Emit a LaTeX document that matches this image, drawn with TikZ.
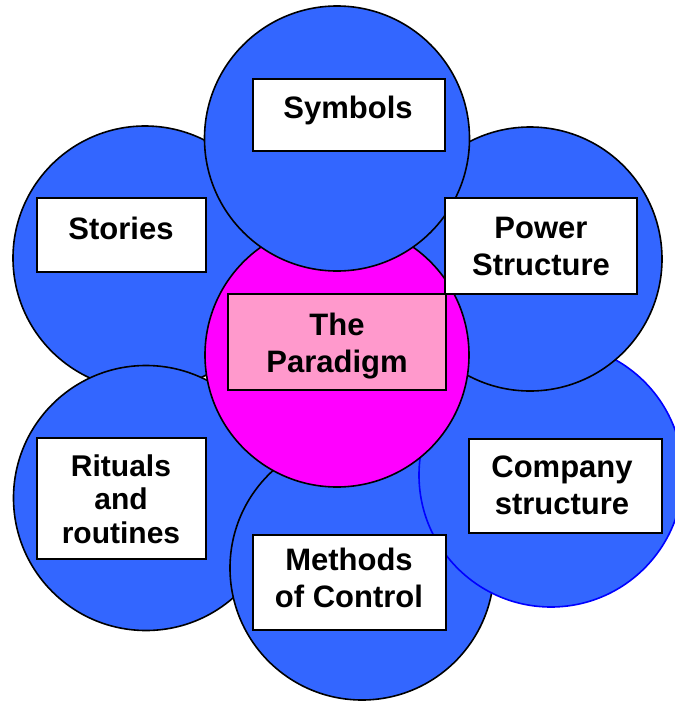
\documentclass[tikz,border=0pt]{standalone}
\usepackage{fontspec}
\setmainfont{Liberation Sans}
\definecolor{petal}{RGB}{51,102,255}
\definecolor{core}{RGB}{255,0,255}
\definecolor{corelabel}{RGB}{255,153,204}
\definecolor{rimblue}{RGB}{0,0,255}
\begin{document}
\begin{tikzpicture}[x=1pt,y=-1pt,
  petalc/.style={circle,draw=black,line width=1.6pt,fill=petal,inner sep=0pt,minimum size=264pt},
  labelbox/.style={rectangle,draw=black,line width=1.5pt,fill=white,inner sep=0pt},
  labeltext/.style={anchor=base,inner sep=0pt,font=\fontsize{31}{37}\selectfont\bfseries}
]
\clip (0,0) rectangle (675,702);
% petals, back to front
\node[petalc] (stories) at (145,258) {};
\node[petalc,minimum size=265pt] (rituals) at (146,498) {};
\node[petalc] (methods) at (362,568) {};
\node[petalc,draw=rimblue] (company) at (551,475) {};
\node[petalc] (power) at (530,259) {};
\node[petalc,fill=core] (paradigm) at (337,355) {};
\node[petalc,minimum size=265pt] (symbols) at (337,138.5) {};

% label boxes
\node[labelbox,minimum width=192pt,minimum height=72pt] (symbolsbox) at (349,115) {};
\node[labelbox,minimum width=169pt,minimum height=74pt] (storiesbox) at (121.5,235) {};
\node[labelbox,minimum width=192pt,minimum height=96pt] (powerbox) at (541,246) {};
\node[labelbox,fill=corelabel,minimum width=218pt,minimum height=96pt] (paradigmbox) at (337,342) {};
\node[labelbox,minimum width=169pt,minimum height=121pt] (ritualsbox) at (121.5,498.5) {};
\node[labelbox,minimum width=193pt,minimum height=94pt] (companybox) at (565.5,486) {};
\node[labelbox,minimum width=193pt,minimum height=95pt] (methodsbox) at (349.5,582.5) {};

% label texts (anchored at first baseline)
\node[labeltext] (symbolstext) at (348,118) {Symbols};
\node[labeltext] (storiestext) at (121,239) {Stories};
\node[labeltext] (powertext) at (541,238) {\begin{tabular}[t]{@{}c@{}}Power\\Structure\end{tabular}};
\node[labeltext] (paradigmtext) at (337,335) {\begin{tabular}[t]{@{}c@{}}The\\Paradigm\end{tabular}};
\node[labeltext,font=\fontsize{30}{33.5}\selectfont\bfseries] (ritualstext) at (121,476) {\begin{tabular}[t]{@{}c@{}}Rituals\\and\\routines\end{tabular}};
\node[labeltext] (companytext) at (562,477) {\begin{tabular}[t]{@{}c@{}}Company\\structure\end{tabular}};
\node[labeltext] (methodstext) at (349,570) {\begin{tabular}[t]{@{}c@{}}Methods\\of Control\end{tabular}};
\end{tikzpicture}
\end{document}
